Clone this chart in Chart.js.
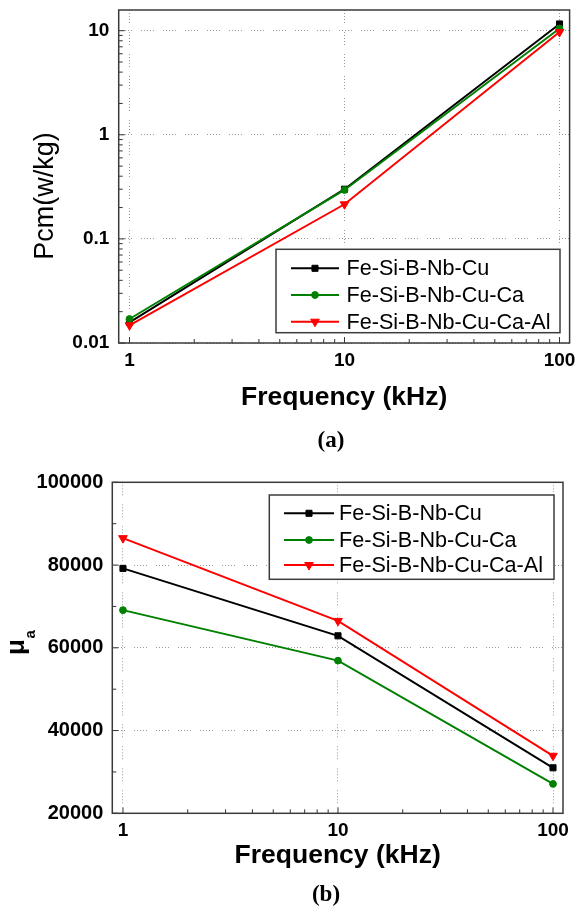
<!DOCTYPE html>
<html>
<head>
<meta charset="utf-8">
<script src="https://cdn.jsdelivr.net/npm/chart.js"></script>
<style>
  html, body { margin: 0; padding: 0; background: #fff; }
  body { width: 578px; height: 907px; position: relative; overflow: hidden; }
  canvas { position: absolute; left: 0; }
  #chartA { top: 0; }
  #chartB { top: 450px; }
  .caption {
    position: absolute;
    font: bold 23px "Liberation Serif", "Times New Roman", serif;
    color: #000;
    transform: translate(-50%, -50%);
  }
</style>
</head>
<body>
<canvas id="chartA" width="578" height="450"></canvas>
<canvas id="chartB" width="578" height="457"></canvas>
<div class="caption" style="left:331px; top:440px">(a)</div>
<div class="caption" style="left:326px; top:894px">(b)</div>
<script>
// data
const freq = [1, 10, 100];
const seriesNames = ["Fe-Si-B-Nb-Cu", "Fe-Si-B-Nb-Cu-Ca", "Fe-Si-B-Nb-Cu-Ca-Al"];

const pcmCu = [0.0158, 0.30, 11.6];
const pcmCa = [0.017, 0.295, 10.5];
const pcmAl = [0.0148, 0.215, 9.7];

const muCu = [79200, 62900, 31000];
const muCa = [69100, 56900, 27100];
const muAl = [86500, 66500, 33900];

// tick labels
const freqTicks = [1, 10, 100];
const pcmTicks = [0.01, 0.1, 1, 10];
const muTicks = [20000, 40000, 60000, 80000, 100000];
const muMinorTicks = [30000, 50000, 70000, 90000];

const colors = ["#000000", "#008000", "#ff0000"];
const markers = ["rect", "circle", "triangle"];
const radii = [4.3, 3.4, 5];

const sans = "'Liberation Sans', Arial, sans-serif";
const gridDash = [1, 2, 1, 2, 1, 2, 1, 2, 1, 9];
Chart.defaults.font.family = sans;
Chart.defaults.color = "#000";

// minor ticks of a log axis (2..9 in each decade)
function logMinors(min, max) {
  const out = [];
  for (let e = Math.floor(Math.log10(min)); e <= Math.ceil(Math.log10(max)); e++) {
    for (let m = 2; m <= 9; m++) {
      const v = parseFloat((m * Math.pow(10, e)).toPrecision(3));
      if (v > min && v < max) out.push(v);
    }
  }
  return out;
}

function makeDatasets(lists) {
  return lists.map((vals, i) => ({
    label: seriesNames[i],
    data: freq.map((f, j) => ({ x: f, y: vals[j] })),
    borderColor: colors[i],
    backgroundColor: colors[i],
    borderWidth: 2,
    pointStyle: markers[i],
    pointRadius: radii[i],
    pointHoverRadius: radii[i],
    pointRotation: i === 2 ? 180 : 0,
    pointBorderWidth: 1,
    tension: 0,
    order: 2 - i, // red on top, like the original
  }));
}

function drawMarker(ctx, style, x, y, r, rot, color) {
  ctx.save();
  ctx.fillStyle = color;
  ctx.strokeStyle = color;
  ctx.lineWidth = 1;
  ctx.beginPath();
  if (style === "rect") {
    const h = r * Math.SQRT1_2;
    ctx.rect(x - h, y - h, 2 * h, 2 * h);
  } else if (style === "circle") {
    ctx.arc(x, y, r, 0, 2 * Math.PI);
  } else {
    const base = rot * Math.PI / 180;
    for (let k = 0; k < 3; k++) {
      const a = base + k * 2 * Math.PI / 3;
      const px = x + Math.sin(a) * r;
      const py = y - Math.cos(a) * r;
      if (k) ctx.lineTo(px, py); else ctx.moveTo(px, py);
    }
    ctx.closePath();
  }
  ctx.fill();
  ctx.stroke();
  ctx.restore();
}

// box, inward ticks, legend and y title
function makeFrame(cfg) {
  return {
    id: "frame",
    beforeDatasetsDraw(chart) {
      const { ctx, chartArea: a } = chart;
      const x = chart.scales.x, y = chart.scales.y;
      ctx.save();
      ctx.strokeStyle = "#333";
      ctx.lineWidth = 1;
      ctx.beginPath();
      cfg.xMajor.forEach(v => { const p = x.getPixelForValue(v); ctx.moveTo(p, a.bottom); ctx.lineTo(p, a.bottom - 6); });
      cfg.xMinor.forEach(v => { const p = x.getPixelForValue(v); ctx.moveTo(p, a.bottom); ctx.lineTo(p, a.bottom - 4); });
      cfg.yMajor.forEach(v => { const p = y.getPixelForValue(v); ctx.moveTo(a.left, p); ctx.lineTo(a.left + 6, p); });
      cfg.yMinor.forEach(v => { const p = y.getPixelForValue(v); ctx.moveTo(a.left, p); ctx.lineTo(a.left + 4, p); });
      ctx.stroke();
      ctx.lineWidth = 1.5;
      ctx.strokeStyle = "#3a3a3a";
      ctx.strokeRect(a.left, a.top, a.right - a.left, a.bottom - a.top);
      ctx.restore();
    },
    afterDraw(chart) {
      const ctx = chart.ctx;
      const L = cfg.legend;
      ctx.save();
      ctx.fillStyle = "#fff";
      ctx.fillRect(L.left, L.top, L.right - L.left, L.bottom - L.top);
      ctx.strokeStyle = "#3c3c3c";
      ctx.lineWidth = 1.5;
      ctx.strokeRect(L.left, L.top, L.right - L.left, L.bottom - L.top);
      chart.data.datasets.forEach((ds, i) => {
        const yy = L.rows[i];
        ctx.strokeStyle = ds.borderColor;
        ctx.lineWidth = 2;
        ctx.beginPath();
        ctx.moveTo(L.line0, yy);
        ctx.lineTo(L.line1, yy);
        ctx.stroke();
        drawMarker(ctx, ds.pointStyle, L.mark, yy, ds.pointRadius, ds.pointRotation, ds.borderColor);
        ctx.fillStyle = "#000";
        ctx.font = "21.6px " + sans;
        ctx.textAlign = "left";
        ctx.textBaseline = "middle";
        ctx.fillText(ds.label, L.text, yy + 1);
      });
      ctx.restore();
      cfg.yTitle(ctx);
    },
  };
}

function baseScales(o) {
  return {
    x: {
      type: "logarithmic",
      min: o.xMin,
      max: o.xMax,
      afterBuildTicks: s => { s.ticks = freqTicks.map(v => ({ value: v })); },
      afterFit: s => { s.height = o.xHeight; s.paddingLeft = 0; s.paddingRight = 0; },
      ticks: {
        autoSkip: false, maxRotation: 0, padding: 6.3, color: "#000",
        font: { size: 19, weight: "bold" },
        callback: v => String(v),
      },
      grid: { color: "#999", lineWidth: 1, drawTicks: false },
      border: { display: false, dash: gridDash },
      title: {
        display: true, text: "Frequency (kHz)", color: "#000",
        font: { size: 26.5, weight: "bold" },
        padding: { top: 0, bottom: o.titlePad },
      },
    },
    y: o.y,
  };
}

// (a) core loss
const pcmMin = 0.01, pcmMax = 15.8;
const xMinA = 0.891, xMaxA = 111.4;
new Chart(document.getElementById("chartA"), {
  type: "line",
  data: { datasets: makeDatasets([pcmCu, pcmCa, pcmAl]) },
  options: {
    responsive: false,
    animation: false,
    events: [],
    layout: { padding: { top: 10, right: 8.4, bottom: 0, left: 0 } },
    plugins: { legend: { display: false }, tooltip: { enabled: false } },
    scales: baseScales({
      xMin: xMinA, xMax: xMaxA, xHeight: 107, titlePad: 36,
      y: {
        type: "logarithmic",
        min: pcmMin,
        max: pcmMax,
        afterBuildTicks: s => { s.ticks = pcmTicks.map(v => ({ value: v })); },
        afterFit: s => { s.width = 118.7; s.paddingTop = 0; s.paddingBottom = 0; },
        ticks: {
          autoSkip: false, padding: 9.4, color: "#000",
          font: { size: 19, weight: "bold" },
          callback: v => String(v),
        },
        grid: { color: "#999", lineWidth: 1, drawTicks: false },
        border: { display: false, dash: gridDash },
      },
    }),
  },
  plugins: [makeFrame({
    xMajor: freqTicks,
    xMinor: logMinors(1, xMaxA),
    yMajor: pcmTicks,
    yMinor: logMinors(pcmMin, pcmMax),
    legend: {
      left: 276, right: 560, top: 249.3, bottom: 332.7,
      rows: [268.3, 295, 321.7], line0: 291, line1: 339, mark: 315, text: 346.5,
    },
    yTitle: ctx => {
      ctx.save();
      ctx.translate(46, 196);
      ctx.rotate(-Math.PI / 2);
      ctx.fillStyle = "#000";
      ctx.font = "27px " + sans;
      ctx.textAlign = "center";
      ctx.textBaseline = "middle";
      ctx.fillText("Pcm(w/kg)", 0, 0);
      ctx.restore();
    },
  })],
});

// (b) permeability
const muMin = 20000, muMax = 100000;
const xMinB = 0.892, xMaxB = 111.3;
new Chart(document.getElementById("chartB"), {
  type: "line",
  data: { datasets: makeDatasets([muCu, muCa, muAl]) },
  options: {
    responsive: false,
    animation: false,
    events: [],
    layout: { padding: { top: 32.3, right: 15, bottom: 0, left: 0 } },
    plugins: { legend: { display: false }, tooltip: { enabled: false } },
    scales: baseScales({
      xMin: xMinB, xMax: xMaxB, xHeight: 93.7, titlePad: 35,
      y: {
        type: "linear",
        min: muMin,
        max: muMax,
        afterBuildTicks: s => { s.ticks = muTicks.map(v => ({ value: v })); },
        afterFit: s => { s.width = 112.3; s.paddingTop = 0; s.paddingBottom = 0; },
        ticks: {
          autoSkip: false, padding: 9, color: "#000",
          font: { size: 20, weight: "bold" },
          callback: v => String(v),
        },
        grid: { color: "#999", lineWidth: 1, drawTicks: false },
        border: { display: false, dash: gridDash },
      },
    }),
  },
  plugins: [makeFrame({
    xMajor: freqTicks,
    xMinor: logMinors(1, xMaxB),
    yMajor: muTicks,
    yMinor: muMinorTicks,
    legend: {
      left: 269.3, right: 554, top: 45, bottom: 129.3,
      rows: [63.3, 90, 115], line0: 284, line1: 334, mark: 309, text: 339,
    },
    yTitle: ctx => {
      ctx.save();
      ctx.translate(23.5, 205);
      ctx.rotate(-Math.PI / 2);
      ctx.fillStyle = "#000";
      ctx.font = "bold 26px " + sans;
      ctx.textAlign = "left";
      ctx.textBaseline = "alphabetic";
      ctx.fillText("μ", 0, 0);
      const w = ctx.measureText("μ").width;
      ctx.font = "bold 15px " + sans;
      ctx.fillText("a", w + 0.5, 11);
      ctx.restore();
    },
  })],
});
</script>
</body>
</html>
